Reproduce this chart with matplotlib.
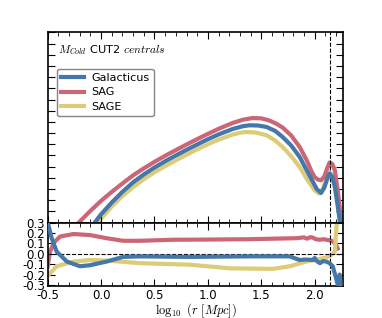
import numpy as np
import matplotlib
matplotlib.use('Agg')
import matplotlib.pyplot as plt
from matplotlib.ticker import MultipleLocator, NullFormatter

plt.rcParams['mathtext.fontset'] = 'cm'
plt.rcParams['axes.unicode_minus'] = False

# top panel (arbitrary units, no labels shown)
x_sag = [-0.21, -0.1, 0.0, 0.1, 0.2, 0.3, 0.4, 0.5, 0.613, 0.7, 0.8, 0.925, 1.0, 1.1, 1.236, 1.33, 1.42, 1.5, 1.57, 1.64, 1.7, 1.78, 1.86, 1.93, 1.97, 2.0, 2.03, 2.06, 2.09, 2.12, 2.14, 2.165, 2.19, 2.215, 2.235, 2.25]
y_sag = [0.0, 1.05, 1.95, 2.75, 3.5, 4.23, 4.85, 5.43, 6.04, 6.48, 6.98, 7.58, 7.93, 8.38, 8.92, 9.2, 9.35, 9.32, 9.15, 8.85, 8.5, 7.8, 6.76, 5.5, 4.6, 4.08, 3.85, 3.78, 4.1, 4.9, 5.37, 5.25, 4.68, 3.0, 1.4, -0.5]

x_gal = [-0.06, 0.0, 0.1, 0.2, 0.3, 0.4, 0.5, 0.613, 0.7, 0.8, 0.925, 1.0, 1.1, 1.236, 1.33, 1.39, 1.47, 1.55, 1.63, 1.7, 1.78, 1.86, 1.93, 1.985, 2.02, 2.06, 2.09, 2.12, 2.14, 2.165, 2.19, 2.215, 2.235, 2.25]
y_gal = [0.0, 0.75, 1.8, 2.75, 3.6, 4.3, 4.92, 5.55, 6.0, 6.5, 7.1, 7.45, 7.88, 8.38, 8.62, 8.70, 8.68, 8.55, 8.2, 7.66, 6.9, 5.87, 4.6, 3.63, 3.0, 2.65, 3.1, 3.95, 4.38, 4.1, 3.18, 1.6, 0.2, -1.0]

x_sage = [-0.03, 0.0, 0.1, 0.2, 0.3, 0.4, 0.5, 0.613, 0.7, 0.8, 0.925, 1.0, 1.1, 1.236, 1.3, 1.36, 1.45, 1.55, 1.63, 1.7, 1.78, 1.86, 1.93, 2.0, 2.04, 2.07, 2.1, 2.125, 2.14, 2.165, 2.19, 2.22, 2.245, 2.26]
y_sage = [0.0, 0.35, 1.45, 2.38, 3.18, 3.88, 4.5, 5.12, 5.57, 6.07, 6.66, 7.0, 7.42, 7.88, 8.03, 8.1, 8.05, 7.81, 7.35, 6.76, 5.95, 4.97, 3.85, 2.89, 2.6, 2.9, 3.6, 4.2, 4.5, 4.3, 3.5, 1.9, 0.5, -1.0]

# bottom panel: relative differences
rx_sag = [-0.5, -0.479, -0.44, -0.385, -0.26, -0.104, 0.05, 0.207, 0.363, 0.675, 1.0, 1.36, 1.6, 1.83, 1.9, 1.93, 1.96, 1.985, 2.01, 2.05, 2.08, 2.11, 2.14, 2.17, 2.2, 2.215]
ry_sag = [-0.12, 0.02, 0.11, 0.166, 0.19, 0.18, 0.15, 0.125, 0.125, 0.135, 0.137, 0.14, 0.145, 0.15, 0.158, 0.145, 0.16, 0.155, 0.14, 0.135, 0.14, 0.135, 0.13, 0.12, 0.09, 0.05]

rx_gal = [-0.5, -0.463, -0.416, -0.32, -0.198, -0.104, 0.05, 0.207, 0.363, 0.831, 1.36, 1.767, 1.86, 1.92, 1.985, 2.0, 2.02, 2.05, 2.08, 2.11, 2.14, 2.17, 2.2, 2.22, 2.235, 2.245, 2.26]
ry_gal = [0.30, 0.15, 0.02, -0.075, -0.12, -0.11, -0.075, -0.03, -0.025, -0.03, -0.025, -0.025, -0.06, -0.055, -0.06, -0.04, -0.07, -0.09, -0.07, -0.075, -0.09, -0.12, -0.23, -0.31, -0.2, -0.33, -0.34]

rx_sage = [-0.5, -0.416, -0.26, -0.104, 0.05, 0.363, 0.831, 1.206, 1.61, 1.767, 1.92, 2.05, 2.14, 2.19, 2.2, 2.21]
ry_sage = [-0.21, -0.12, -0.075, -0.06, -0.065, -0.09, -0.105, -0.14, -0.145, -0.12, -0.075, -0.05, -0.025, 0.02, 0.19, 0.32]

c_gal = '#4477AA'
c_sag = '#CC6677'
c_sage = '#DDCC77'
x_cut = 2.145

fig = plt.figure(figsize=(3.82, 3.18), dpi=100)
ax1 = fig.add_axes([0.125, 0.300, 0.774, 0.598])
ax2 = fig.add_axes([0.125, 0.1006, 0.774, 0.1994], sharex=ax1)

ax1.plot(x_gal, y_gal, color=c_gal, lw=3, label='Galacticus', zorder=3)
ax1.plot(x_sag, y_sag, color=c_sag, lw=3, label='SAG', zorder=2)
ax1.plot(x_sage, y_sage, color=c_sage, lw=3, label='SAGE', zorder=1)
ax1.axvline(x_cut, color='k', ls='--', lw=0.8)
ax1.set_ylim(0, 17)
ax1.yaxis.set_major_locator(MultipleLocator(1))
ax1.yaxis.set_major_formatter(NullFormatter())
ax1.text(0.035, 0.905, r'$M_{Cold}$ CUT2 $centrals$', transform=ax1.transAxes,
         fontsize=8.2, va='center')
leg = ax1.legend(loc='upper left', bbox_to_anchor=(0.03, 0.81), borderaxespad=0,
                 fontsize=8, frameon=True, fancybox=True, edgecolor='0.4',
                 handlelength=2.1, handletextpad=0.6, borderpad=0.4,
                 labelspacing=0.4)
plt.setp(ax1.get_xticklabels(), visible=False)

ax2.plot(rx_sag, ry_sag, color=c_sag, lw=3)
ax2.plot(rx_gal, ry_gal, color=c_gal, lw=3, zorder=3)
ax2.plot(rx_sage, ry_sage, color=c_sage, lw=3)
ax2.axhline(0, color='k', ls='--', lw=0.8)
ax2.axvline(x_cut, color='k', ls='--', lw=0.8)
ax2.set_ylim(-0.31, 0.3)
ax2.set_yticks([-0.3, -0.2, -0.1, 0.0, 0.1, 0.2, 0.3])
ax2.set_yticklabels(['-0.3', '-0.2', '-0.1', '0.0', '0.1', '0.2', '0.3'])
ax2.set_xlim(-0.5, 2.27)
ax2.xaxis.set_major_locator(MultipleLocator(0.5))
ax2.xaxis.set_minor_locator(MultipleLocator(0.1))
ax2.set_xlabel(r'$\log_{10}\ (r\ [Mpc])$', fontsize=9)
ax2.xaxis.set_label_coords(0.5, -0.24)

for ax in (ax1, ax2):
    ax.tick_params(which='both', direction='in', top=True, right=True, labelsize=8.5, pad=2)
    ax.tick_params(which='major', length=5)
    ax.tick_params(which='minor', length=3)
    for s in ax.spines.values():
        s.set_linewidth(1.2)

fig.savefig('out.png', dpi=100)
